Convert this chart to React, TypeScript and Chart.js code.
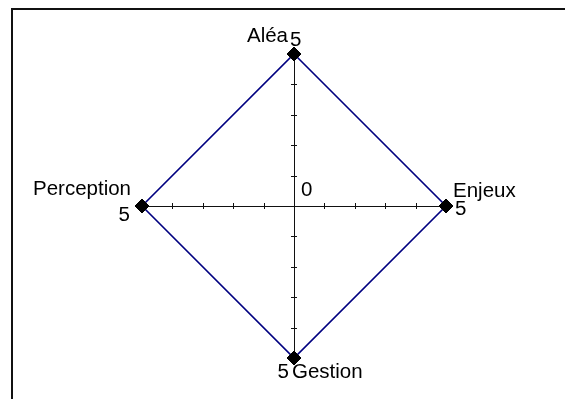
import React, { useEffect, useRef } from "react";
import { Chart, registerables } from "chart.js";

Chart.register(...registerables);

// ---- data ----
const categories = ["Aléa", "Enjeux", "Gestion", "Perception"];
const values = [5, 5, 5, 5];
const axisMin = 0;
const axisMax = 5;
const tickValues = [1, 2, 3, 4];
const centerLabel = "0";
const endLabels = ["5", "5", "5", "5"];

// ---- styles ----
const FONT = '"Liberation Sans", Arial, Helvetica, sans-serif';
const FONT_SIZE = 20.5;
type Place = { dx: number; dy: number; align: CanvasTextAlign };
const namePlace: Place[] = [
  { dx: -6, dy: -12, align: "right" },
  { dx: 7, dy: -9, align: "left" },
  { dx: -2, dy: 20, align: "left" },
  { dx: -11, dy: -11, align: "right" },
];
const valuePlace: Place[] = [
  { dx: -4, dy: -8, align: "left" },
  { dx: 9, dy: 9, align: "left" },
  { dx: -5, dy: 20, align: "right" },
  { dx: -12, dy: 15, align: "right" },
];
const centerPlace: Place = { dx: 7, dy: -10, align: "left" };

const axesPlugin = {
  id: "axesTicks",
  beforeDatasetsDraw(chart: any) {
    const scale = chart.scales.r;
    const ctx = chart.ctx as CanvasRenderingContext2D;
    const cx = scale.xCenter;
    const cy = scale.yCenter;
    ctx.save();
    ctx.strokeStyle = "#111";
    ctx.lineWidth = 1;
    const L = 3;
    categories.forEach((_, i) => {
      const end = scale.getPointPositionForValue(i, axisMax);
      const dx = end.x - cx;
      const dy = end.y - cy;
      const len = Math.hypot(dx, dy) || 1;
      const ux = dx / len;
      const uy = dy / len;
      const px = -uy;
      const py = ux;
      // crisp offsets: vertical lines shift x by .5, horizontal shift y by .5
      const ox = Math.abs(uy) > 0.5 ? 0.5 : 0;
      const oy = Math.abs(ux) > 0.5 ? 0.5 : 0;
      ctx.beginPath();
      ctx.moveTo(Math.round(cx) + ox, Math.round(cy) + oy);
      ctx.lineTo(Math.round(end.x) + ox, Math.round(end.y) + oy);
      ctx.stroke();
      tickValues.forEach((v) => {
        const p = scale.getPointPositionForValue(i, v);
        const tx = Math.round(p.x) + (Math.abs(px) < 0.5 ? 0.5 : 0);
        const ty = Math.round(p.y) + (Math.abs(py) < 0.5 ? 0.5 : 0);
        ctx.beginPath();
        ctx.moveTo(tx - px * L, ty - py * L);
        ctx.lineTo(tx + px * L, ty + py * L);
        ctx.stroke();
      });
    });
    ctx.restore();
  },
};

const labelPlugin = {
  id: "labels",
  afterDraw(chart: any) {
    const scale = chart.scales.r;
    const ctx = chart.ctx as CanvasRenderingContext2D;
    const cx = scale.xCenter;
    const cy = scale.yCenter;
    ctx.save();
    ctx.fillStyle = "#000";
    ctx.font = `${FONT_SIZE}px ${FONT}`;
    ctx.textBaseline = "alphabetic";
    categories.forEach((name, i) => {
      const p = scale.getPointPositionForValue(i, axisMax);
      const n = namePlace[i];
      ctx.textAlign = n.align;
      ctx.fillText(name, p.x + n.dx, p.y + n.dy);
      const vp = valuePlace[i];
      ctx.textAlign = vp.align;
      ctx.fillText(endLabels[i], p.x + vp.dx, p.y + vp.dy);
    });
    ctx.textAlign = centerPlace.align;
    ctx.fillText(centerLabel, cx + centerPlace.dx, cy + centerPlace.dy);
    ctx.restore();
  },
};

export default function App() {
  const ref = useRef<HTMLCanvasElement | null>(null);
  useEffect(() => {
    if (!ref.current) return;
    const chart = new Chart(ref.current, {
      type: "radar",
      data: {
        labels: categories,
        datasets: [
          {
            data: values,
            borderColor: "#000080",
            borderWidth: 1.6,
            backgroundColor: "rgba(0,0,0,0)",
            fill: false,
            pointStyle: "rectRot",
            pointRadius: 7,
            pointHoverRadius: 7,
            pointBackgroundColor: "#000",
            pointBorderColor: "#000",
            pointBorderWidth: 1,
            clip: false as any,
          },
        ],
      },
      options: {
        animation: false,
        responsive: true,
        maintainAspectRatio: false,
        events: [],
        layout: { padding: { left: 142, right: 119, top: 54, bottom: 41 } },
        plugins: { legend: { display: false }, tooltip: { enabled: false } },
        scales: {
          r: {
            min: axisMin,
            max: axisMax,
            grid: { display: false },
            angleLines: { display: false },
            ticks: { display: false },
            pointLabels: { display: false },
          },
        },
      },
      plugins: [axesPlugin, labelPlugin],
    });
    return () => chart.destroy();
  }, []);
  return (
    <div style={{ position: "fixed", left: 0, top: 0, width: 565, height: 399, background: "#fff", overflow: "hidden" }}>
      <div
        style={{
          position: "absolute",
          left: 11,
          top: 8,
          width: 565 - 11,
          height: 399 - 8,
          borderTop: "2px solid #111",
          borderLeft: "2px solid #111",
          boxSizing: "border-box",
        }}
      />
      <div style={{ position: "absolute", left: 0, top: 0, width: 565, height: 399 }}>
        <canvas ref={ref} />
      </div>
    </div>
  );
}
